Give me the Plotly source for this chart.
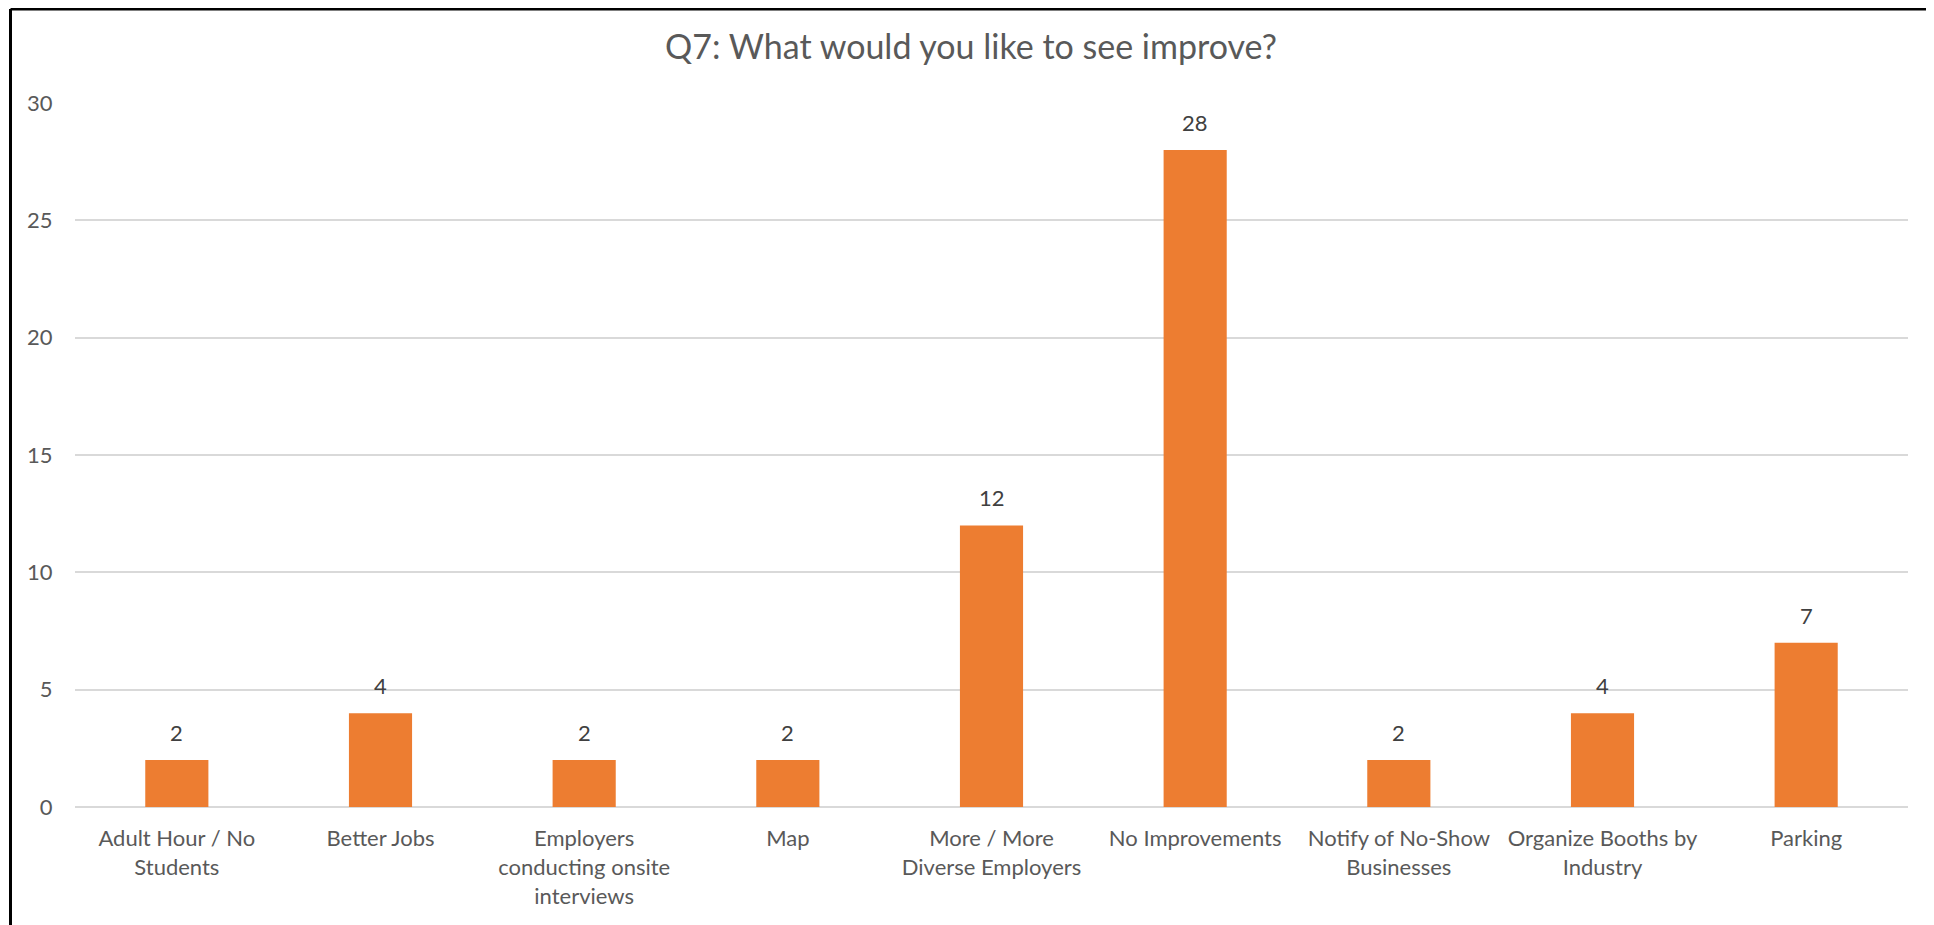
import plotly.graph_objects as go

categories = [
    "Adult Hour / No<br>Students",
    "Better Jobs",
    "Employers<br>conducting onsite<br>interviews",
    "Map",
    "More / More<br>Diverse Employers",
    "No Improvements",
    "Notify of No-Show<br>Businesses",
    "Organize Booths by<br>Industry",
    "Parking",
]
values = [2, 4, 2, 2, 12, 28, 2, 4, 7]
y_ticks = [0, 5, 10, 15, 20, 25, 30]
title_text = "Q7: What would you like to see improve?"

FONT = "Lato, 'Open Sans', sans-serif"
TXT = "#595959"

fig = go.Figure(
    go.Bar(
        x=categories,
        y=values,
        marker=dict(color="#ED7D31", line=dict(width=0)),
        hoverinfo="x+y",
    )
)

for c, v in zip(categories, values):
    fig.add_annotation(
        x=c, y=v, text=str(v), showarrow=False,
        yanchor="bottom", yshift=12,
        font=dict(family=FONT, size=22, color="#404040"),
    )

# page body has an 8px margin; figure sized to fill the rest of the viewport
W, H = 1926, 917
ml, mr, mt, mb = 67, 26, 95, 118
pw, ph = W - ml - mr, H - mt - mb
bx = (2.5 - ml) / pw
by = (H - mb - 1) / ph

fig.add_shape(type="line", xref="paper", yref="paper",
              x0=bx, x1=bx, y0=-0.3, y1=by,
              line=dict(color="black", width=3))
fig.add_shape(type="line", xref="paper", yref="paper",
              x0=bx, x1=1.2, y0=by, y1=by,
              line=dict(color="black", width=3))

fig.update_layout(
    width=W, height=H,
    margin=dict(l=ml, r=mr, t=mt, b=mb, autoexpand=False),
    paper_bgcolor="white", plot_bgcolor="white",
    bargap=0.69,
    showlegend=False,
    title=dict(text=title_text, x=0.5, xref="container", xanchor="center",
               y=1 - 39 / H, yref="container", yanchor="middle",
               font=dict(family=FONT, size=34, color=TXT)),
    font=dict(family=FONT, size=22, color=TXT),
)
fig.update_xaxes(
    showgrid=False, showline=False, zeroline=False,
    ticks="outside", ticklen=12, tickcolor="rgba(0,0,0,0)",
    tickfont=dict(family=FONT, size=22, color=TXT),
)
fig.update_yaxes(
    range=[0, 30], tickvals=y_ticks,
    showgrid=True, gridcolor="#D9D9D9", gridwidth=1.5,
    zeroline=True, zerolinecolor="#D9D9D9", zerolinewidth=1.5,
    showline=False,
    ticks="outside", ticklen=17, tickcolor="rgba(0,0,0,0)",
    tickfont=dict(family=FONT, size=22, color=TXT),
)

fig.write_html("out.html")
